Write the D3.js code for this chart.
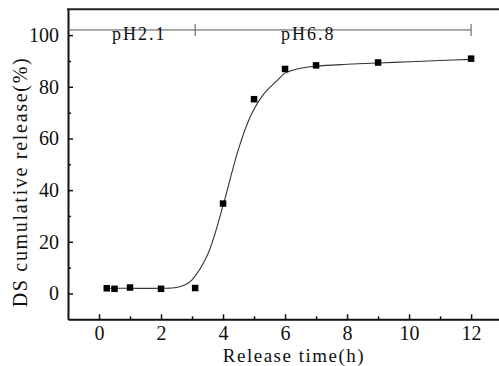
<!DOCTYPE html>
<html lang="en">
<head>
  <meta charset="UTF-8">
  <title>DS cumulative release</title>
  <script src="https://d3js.org/d3.v7.min.js"></script>
  <style>
    body { margin: 0; background: #fff; }
  </style>
</head>
<body>
  <svg id="chart" width="499" height="366"></svg>
  <script>
    // measured points
    const times = [0.25, 0.5, 1, 2, 3.1, 4, 5, 6, 7, 9, 12];
    const release = [2.0, 1.8, 2.3, 1.8, 2.1, 34.8, 75.2, 86.9, 88.3, 89.4, 90.9];

    // fitted curve
    const fitX = [0.25, 1, 2, 2.5, 2.8, 3.0, 3.5, 4, 4.5, 4.9, 5.3, 5.75, 6, 6.5, 7, 8, 9, 10, 11, 12];
    const fitY = [2.0, 2.0, 2.0, 2.3, 3.5, 5.3, 15, 34, 56, 69, 77, 82.5, 85.3, 87.2, 88, 88.7, 89.2, 89.7, 90.2, 90.6];

    // pH bracket
    const phLabels = ['pH2.1', 'pH6.8'];
    const phLabelX = [1.3, 6.75];
    const phBreaks = [3.1, 12];
    const phLevel = 102;

    const xTicks = [0, 2, 4, 6, 8, 10, 12];
    const xMinor = [1, 3, 5, 7, 9, 11];
    const yTicks = [0, 20, 40, 60, 80, 100];
    const yMinor = [10, 30, 50, 70, 90];

    const font = 'Liberation Serif';
    const svg = d3.select('#chart').style('font-family', font);
    const m = { left: 68, right: 499, top: 9.3, bottom: 319.3 };

    const x = d3.scaleLinear().domain([-1, 12.9]).range([m.left, m.right]);
    const y = d3.scaleLinear().domain([-10, 110]).range([m.bottom, m.top]);

    // minor ticks
    svg.append('g').attr('transform', `translate(0,${m.bottom})`)
      .call(d3.axisBottom(x).tickValues(xMinor).tickSizeInner(-3).tickSizeOuter(0).tickFormat(''))
      .call(g => g.select('.domain').remove())
      .call(g => g.selectAll('line').attr('stroke', '#111').attr('stroke-width', 1.5));
    svg.append('g').attr('transform', `translate(${m.left},0)`)
      .call(d3.axisLeft(y).tickValues(yMinor).tickSizeInner(-3).tickSizeOuter(0).tickFormat(''))
      .call(g => g.select('.domain').remove())
      .call(g => g.selectAll('line').attr('stroke', '#111').attr('stroke-width', 1.5));

    // major axes
    const xAxis = svg.append('g').attr('transform', `translate(0,${m.bottom})`)
      .call(d3.axisBottom(x).tickValues(xTicks).tickSizeInner(-5).tickSizeOuter(0).tickPadding(7));
    const yAxis = svg.append('g').attr('transform', `translate(${m.left},0)`)
      .call(d3.axisLeft(y).tickValues(yTicks).tickSizeInner(-5).tickSizeOuter(0).tickPadding(9));

    [xAxis, yAxis].forEach(g => {
      g.attr('font-family', null).attr('font-size', null);
      g.select('.domain').attr('stroke', '#111').attr('stroke-width', 2);
      g.selectAll('.tick line').attr('stroke', '#111').attr('stroke-width', 1.5);
      g.selectAll('.tick text')
        .style('font-family', font)
        .style('font-size', '20px')
        .attr('fill', '#111');
    });

    // top border
    svg.append('line')
      .attr('x1', m.left - 1).attr('x2', m.right)
      .attr('y1', m.top).attr('y2', m.top)
      .attr('stroke', '#222').attr('stroke-width', 2);

    // pH bracket line
    const py = y(phLevel);
    svg.append('line')
      .attr('x1', m.left).attr('x2', x(phBreaks[phBreaks.length - 1]))
      .attr('y1', py).attr('y2', py)
      .attr('stroke', '#555').attr('stroke-width', 1);
    svg.selectAll('.ph-tick').data(phBreaks).enter().append('line')
      .attr('class', 'ph-tick')
      .attr('x1', d => x(d)).attr('x2', d => x(d))
      .attr('y1', py - 6).attr('y2', py + 6)
      .attr('stroke', '#555').attr('stroke-width', 1);
    svg.selectAll('.ph-label').data(phLabels).enter().append('text')
      .attr('class', 'ph-label')
      .attr('x', (d, i) => x(phLabelX[i]))
      .attr('y', py + 10)
      .attr('text-anchor', 'middle')
      .attr('fill', '#111')
      .style('font-family', font)
      .style('font-size', '18px')
      .style('letter-spacing', '2px')
      .text(d => d);

    // fitted curve
    const fit = fitX.map((v, i) => [v, fitY[i]]);
    svg.append('path')
      .datum(fit)
      .attr('fill', 'none')
      .attr('stroke', '#333')
      .attr('stroke-width', 1.1)
      .attr('d', d3.line().x(d => x(d[0])).y(d => y(d[1])).curve(d3.curveCatmullRom));

    // markers
    const s = 6.5;
    svg.selectAll('.pt').data(times).enter().append('rect')
      .attr('class', 'pt')
      .attr('x', d => x(d) - s / 2)
      .attr('y', (d, i) => y(release[i]) - s / 2)
      .attr('width', s).attr('height', s)
      .attr('fill', '#000');

    // axis titles
    svg.append('text')
      .attr('x', 294).attr('y', 362)
      .attr('text-anchor', 'middle')
      .attr('fill', '#111')
      .style('font-family', font)
      .style('font-size', '19px')
      .style('letter-spacing', '1.5px')
      .text('Release time(h)');
    svg.append('text')
      .attr('transform', 'translate(27,182) rotate(-90)')
      .attr('text-anchor', 'middle')
      .attr('fill', '#111')
      .style('font-family', font)
      .style('font-size', '20px')
      .style('letter-spacing', '1.7px')
      .text('DS cumulative release(%)');
  </script>
</body>
</html>
